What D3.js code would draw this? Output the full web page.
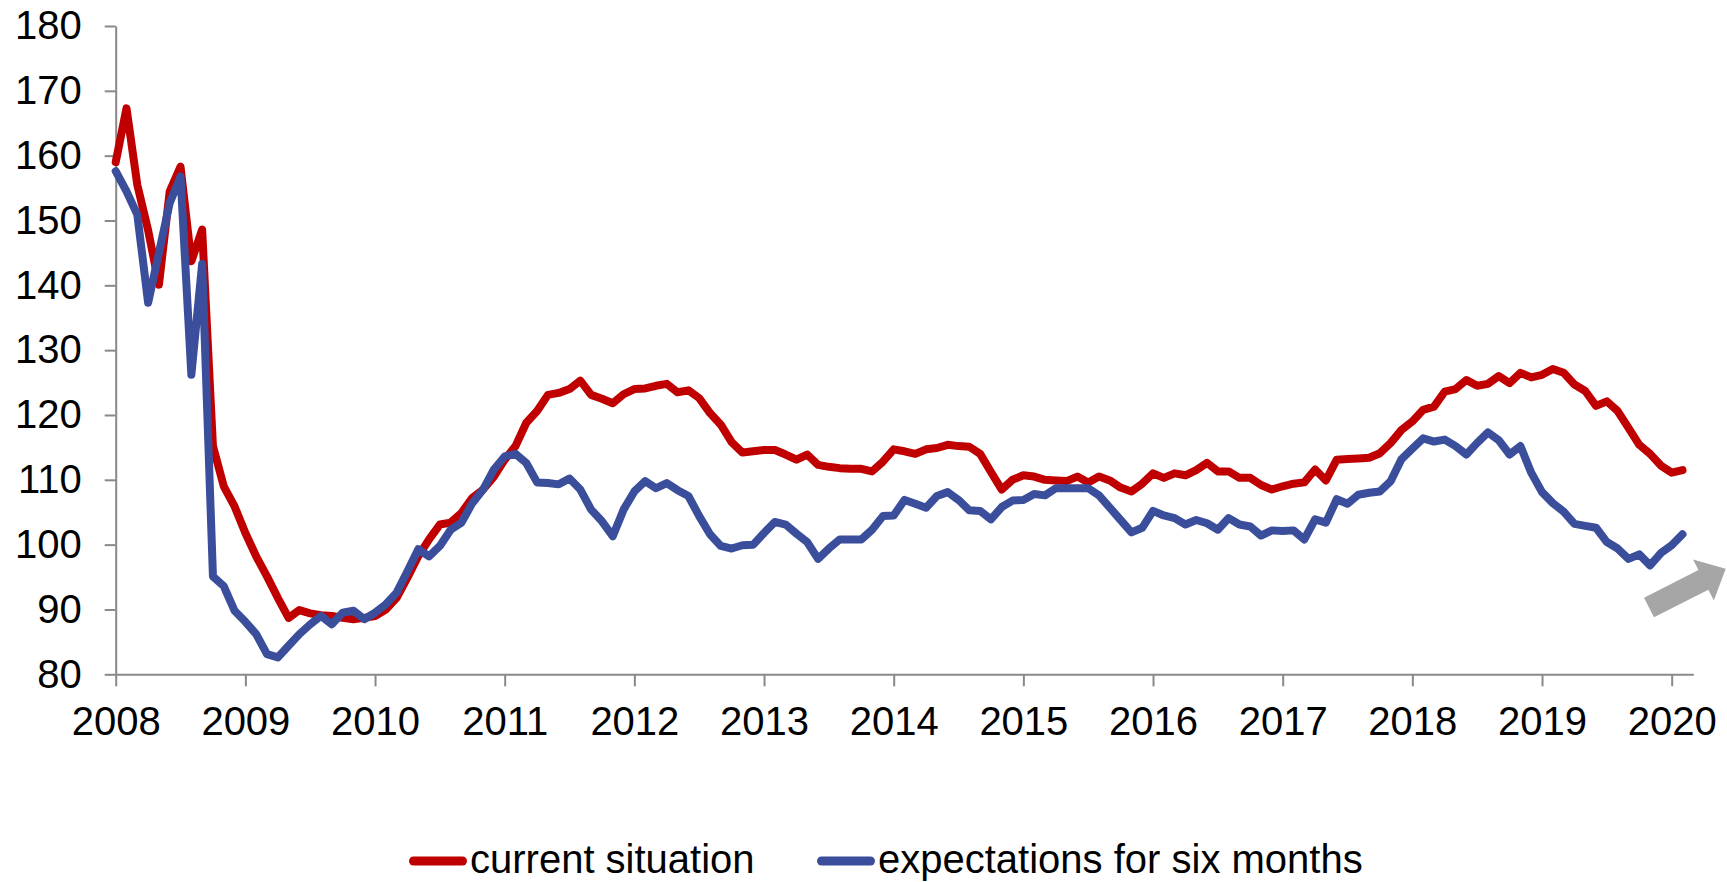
<!DOCTYPE html>
<html>
<head>
<meta charset="utf-8">
<script src="https://cdn.jsdelivr.net/npm/d3@7"></script>
<style>
  html, body { margin: 0; padding: 0; background: #fff; }
  svg { display: block; font-family: "Liberation Sans", Arial, sans-serif; }
</style>
</head>
<body>
<svg id="chart" width="1727" height="882"></svg>
<script>
// ================= DATA ===================
// monthly index values, Jan 2008 .. Feb 2020
const currentSituation = [
  159, 167.3, 155.5, 148.5, 140.1, 154.5, 158.3, 143.7, 148.6, 115.2, 109, 105.9,
  101.8, 98.2, 95.1, 91.8, 88.7, 89.9, 89.4, 89.1, 89, 88.7, 88.5, 88.7,
  89, 90, 91.8, 94.9, 98.2, 100.8, 103.1, 103.4, 104.9, 107.2, 108.5, 110.5,
  113.1, 115.2, 118.8, 120.6, 123.1, 123.4, 124, 125.3, 123.1, 122.5, 121.8, 123.2,
  124, 124.1, 124.5, 124.8, 123.5, 123.8, 122.6, 120.3, 118.5, 115.8, 114.2, 114.4,
  114.6, 114.6, 113.9, 113.1, 113.9, 112.3, 112, 111.8, 111.7, 111.7, 111.3, 112.8,
  114.7, 114.4, 114, 114.7, 114.9, 115.4, 115.2, 115.1, 114, 111.2, 108.5, 110,
  110.7, 110.5, 110, 109.9, 109.8, 110.5, 109.6, 110.5, 109.9, 108.8, 108.2, 109.4,
  111, 110.3, 111, 110.7, 111.5, 112.6, 111.3, 111.3, 110.3, 110.3, 109.2, 108.5,
  109, 109.4, 109.6, 111.6, 109.9, 113.1, 113.2, 113.3, 113.4, 114.1, 115.7, 117.7,
  119, 120.8, 121.3, 123.6, 124, 125.4, 124.5, 124.8, 126, 124.9, 126.5, 125.8,
  126.2, 127.1, 126.5, 124.7, 123.7, 121.4, 122.1, 120.6, 118, 115.4, 114, 112.2,
  111.1, 111.5
];

const expectations = [
  157.6, 154.5, 150.9, 137.3, 145, 152.7, 156.8, 126.2, 143.3, 95.1, 93.6, 89.8,
  88.1, 86.2, 83.1, 82.6, 84.4, 86.2, 87.7, 89, 87.7, 89.5, 89.8, 88.5,
  89.5, 90.8, 92.6, 95.9, 99.3, 98.2, 99.8, 102.3, 103.4, 106.4, 108.5, 111.6,
  113.6, 114, 112.6, 109.6, 109.5, 109.3, 110.2, 108.5, 105.4, 103.6, 101.3, 105.4,
  108.2, 109.8, 108.7, 109.5, 108.4, 107.5, 104.4, 101.6, 99.8, 99.4, 99.9, 100,
  101.8, 103.5, 103.1, 101.7, 100.4, 97.8, 99.4, 100.8, 100.8, 100.8, 102.3, 104.4,
  104.5, 106.9, 106.3, 105.7, 107.5, 108.1, 106.9, 105.3, 105.2, 103.9, 105.8, 106.8,
  106.9, 107.8, 107.6, 108.7, 108.7, 108.7, 108.7, 107.6, 105.7, 103.8, 101.9, 102.6,
  105.2, 104.5, 104.1, 103.1, 103.8, 103.3, 102.3, 104.1, 103.1, 102.8, 101.4, 102.2,
  102.1, 102.2, 100.8, 103.9, 103.4, 107, 106.3, 107.7, 108, 108.2, 109.8, 113.2,
  114.8, 116.4, 115.9, 116.2, 115.2, 113.9, 115.7, 117.3, 116.1, 113.9, 115.2, 111.1,
  108.1, 106.4, 105.1, 103.2, 102.9, 102.6, 100.4, 99.4, 97.8, 98.5, 96.8, 98.7,
  99.9, 101.6
];

const yearLabels = ["2008", "2009", "2010", "2011", "2012", "2013", "2014",
  "2015", "2016", "2017", "2018", "2019", "2020"];
const yTicks = [80, 90, 100, 110, 120, 130, 140, 150, 160, 170, 180];
const seriesNames = ["current situation", "expectations for six months"];

// arrow annotation in data units: [month index, value]
const arrowFrom = [141.9, 90.3];
const arrowTo = [149.0, 96.3];

// ================= SETTINGS ===================
const colors = ["#c00000", "#3a4e9c"];
const axisColor = "#898989";
const fontSize = 40;
const lineWidth = 8;

const svg = d3.select("#chart");

// months from Jan 2008; axis runs one month past the last point
const x = d3.scaleLinear().domain([0, 146]).range([115.7, 1693.3]);
const y = d3.scaleLinear().domain([80, 180]).range([674.3, 26]);

// ================= AXES ===================
const xAxis = d3.axisBottom(x)
  .tickValues(yearLabels.map((d, i) => i * 12))
  .tickFormat((d, i) => yearLabels[i])
  .tickSizeInner(12)
  .tickSizeOuter(0)
  .tickPadding(20);

const yAxis = d3.axisLeft(y)
  .tickValues(yTicks)
  .tickSizeInner(11)
  .tickSizeOuter(0)
  .tickPadding(23);

const gx = svg.append("g")
  .attr("transform", `translate(0,${y(80)})`)
  .call(xAxis);

const gy = svg.append("g")
  .attr("transform", `translate(${x(0)},0)`)
  .call(yAxis);

[gx, gy].forEach((g) => {
  g.select(".domain").attr("stroke", axisColor).attr("stroke-width", 2);
  g.selectAll(".tick line").attr("stroke", axisColor).attr("stroke-width", 2);
  g.selectAll(".tick text")
    .attr("fill", "#000")
    .style("font-size", fontSize + "px")
    .style("font-family", '"Liberation Sans", Arial, sans-serif');
});

// ================= LINES ===================
const line = d3.line()
  .x((d, i) => x(i))
  .y((d) => y(d));

svg.append("g")
  .selectAll("path")
  .data([currentSituation, expectations])
  .join("path")
  .attr("d", line)
  .attr("fill", "none")
  .attr("stroke", (d, i) => colors[i])
  .attr("stroke-width", lineWidth)
  .attr("stroke-linejoin", "round")
  .attr("stroke-linecap", "round");

// ================= ARROW ===================
function arrowPath(from, to, shaftW, headW, headL) {
  const x0 = x(from[0]), y0 = y(from[1]);
  const x1 = x(to[0]), y1 = y(to[1]);
  const len = Math.hypot(x1 - x0, y1 - y0);
  const ux = (x1 - x0) / len, uy = (y1 - y0) / len;
  const px = -uy, py = ux;
  const bx = x1 - ux * headL, by = y1 - uy * headL;
  const pts = [
    [x0 + px * shaftW / 2, y0 + py * shaftW / 2],
    [bx + px * shaftW / 2, by + py * shaftW / 2],
    [bx + px * headW / 2, by + py * headW / 2],
    [x1, y1],
    [bx - px * headW / 2, by - py * headW / 2],
    [bx - px * shaftW / 2, by - py * shaftW / 2],
    [x0 - px * shaftW / 2, y0 - py * shaftW / 2],
  ];
  return "M" + pts.map((p) => p.join(",")).join("L") + "Z";
}

svg.append("path")
  .attr("d", arrowPath(arrowFrom, arrowTo, 22, 46, 25))
  .attr("fill", "#a6a6a6");

// ================= LEGEND ===================
const legendX = [409, 817];
const legendY = 861;

const legend = svg.append("g")
  .selectAll("g")
  .data(seriesNames)
  .join("g")
  .attr("transform", (d, i) => `translate(${legendX[i]},${legendY})`);

legend.append("line")
  .attr("x1", 4.5)
  .attr("x2", 53.5)
  .attr("stroke", (d, i) => colors[i])
  .attr("stroke-width", 9)
  .attr("stroke-linecap", "round");

legend.append("text")
  .attr("x", 61)
  .attr("y", 12)
  .attr("fill", "#000")
  .style("font-size", fontSize + "px")
  .text((d) => d);
</script>
</body>
</html>
